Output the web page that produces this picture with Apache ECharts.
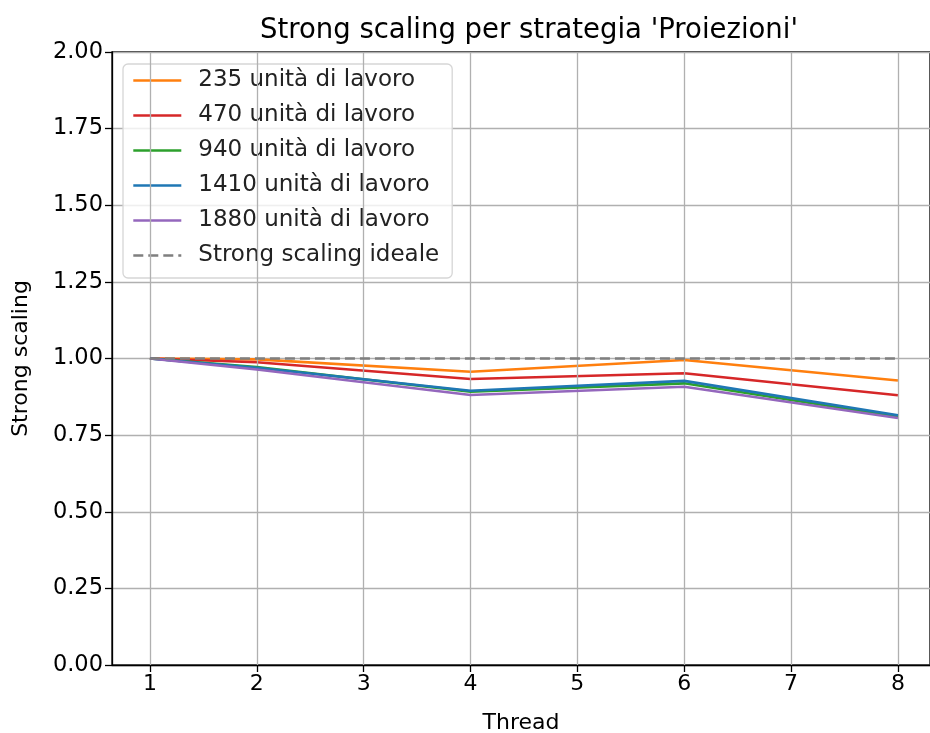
<!DOCTYPE html>
<html>
<head>
<meta charset="utf-8">
<script src="https://cdn.jsdelivr.net/npm/echarts@6/dist/echarts.min.js"></script>
<style>
  html, body { margin: 0; padding: 0; background: #fff; }
  #chart { width: 930px; height: 733px; }
</style>
</head>
<body>
<div id="chart"></div>
<script>
// dati
var threads = [1, 2, 4, 6, 8];
var xTicks = [1, 2, 3, 4, 5, 6, 7, 8];
var s235 = [1.0, 0.997, 0.957, 0.995, 0.928];
var s470 = [1.0, 0.988, 0.933, 0.952, 0.880];
var s940 = [1.0, 0.972, 0.892, 0.919, 0.810];
var s1410 = [1.0, 0.970, 0.895, 0.927, 0.815];
var s1880 = [1.0, 0.964, 0.881, 0.908, 0.806];
var ideal = [1.0, 1.0, 1.0, 1.0, 1.0];

var names = ["235 unità di lavoro", "470 unità di lavoro", "940 unità di lavoro",
  "1410 unità di lavoro", "1880 unità di lavoro", "Strong scaling ideale"];
var colors = ["#ff7f0e", "#d62728", "#2ca02c", "#1f77b4", "#9467bd", "#7f7f7f"];
var values = [s235, s470, s940, s1410, s1880, ideal];

function pairs(arr) {
  return threads.map(function (t, i) { return [t, arr[i]]; });
}

var font = "DejaVu Sans";
var chart = echarts.init(document.getElementById("chart"));

var series = values.map(function (v, i) {
  return {
    name: names[i],
    type: "line",
    data: pairs(v),
    symbol: "none",
    color: colors[i],
    lineStyle: { width: 2.6, color: colors[i], type: i === 5 ? [10, 5] : "solid" },
    z: 3 + i
  };
});

chart.setOption({
  animation: false,
  textStyle: { fontFamily: font },
  title: {
    text: "Strong scaling per strategia 'Proiezioni'",
    left: 524, top: 12, textAlign: "center",
    textStyle: { fontFamily: font, fontSize: 27.5, fontWeight: "normal", color: "#000" }
  },
  grid: {
    left: 112, right: 0, top: 52, bottom: 68,
    outerBoundsMode: "none", containLabel: false,
    show: true, borderColor: "#000", borderWidth: 1.3, backgroundColor: "transparent"
  },
  legend: {
    orient: "vertical", left: 123, top: 64,
    padding: [5, 13, 11, 9],
    itemWidth: 48, itemHeight: 14, itemGap: 12,
    backgroundColor: "rgba(255,255,255,0.8)",
    borderColor: "#d6d6d6", borderWidth: 1.3, borderRadius: 5,
    itemStyle: { opacity: 0 },
    lineStyle: { width: 2.6 },
    textStyle: { fontFamily: font, fontSize: 23, lineHeight: 23, color: "#222", padding: [0, 0, 0, 12] },
    data: names
  },
  xAxis: {
    type: "value", min: 0.645, max: 8.30,
    name: "Thread", nameLocation: "middle", nameGap: 47,
    nameTextStyle: { fontFamily: font, fontSize: 22, color: "#000" },
    axisLine: { show: true, lineStyle: { color: "#000", width: 1.3 } },
    axisTick: { show: true, length: 7, customValues: xTicks, lineStyle: { color: "#000", width: 1.3 } },
    axisLabel: { customValues: xTicks, fontFamily: font, fontSize: 22, color: "#000", margin: 8 },
    splitLine: { show: false }
  },
  yAxis: {
    type: "value", min: 0, max: 2, interval: 0.25,
    name: "Strong scaling", nameLocation: "middle", nameGap: 80,
    nameTextStyle: { fontFamily: font, fontSize: 22, color: "#000" },
    axisLine: { show: true, lineStyle: { color: "#000", width: 1.3 } },
    axisTick: { show: true, length: 7, lineStyle: { color: "#000", width: 1.3 } },
    axisLabel: {
      fontFamily: font, fontSize: 22.5, color: "#000", margin: 9,
      formatter: function (v) { return v.toFixed(2); }
    },
    splitLine: { show: true, lineStyle: { color: "#b0b0b0", width: 1.3 } }
  },
  series: series.concat([{
    // griglia verticale sui tick di x
    type: "line", data: [], silent: true,
    markLine: {
      silent: true, symbol: "none", label: { show: false },
      lineStyle: { color: "#b0b0b0", width: 1.3, type: "solid" },
      data: xTicks.map(function (t) { return { xAxis: t }; })
    },
    z: 1
  }])
});
</script>
</body>
</html>
